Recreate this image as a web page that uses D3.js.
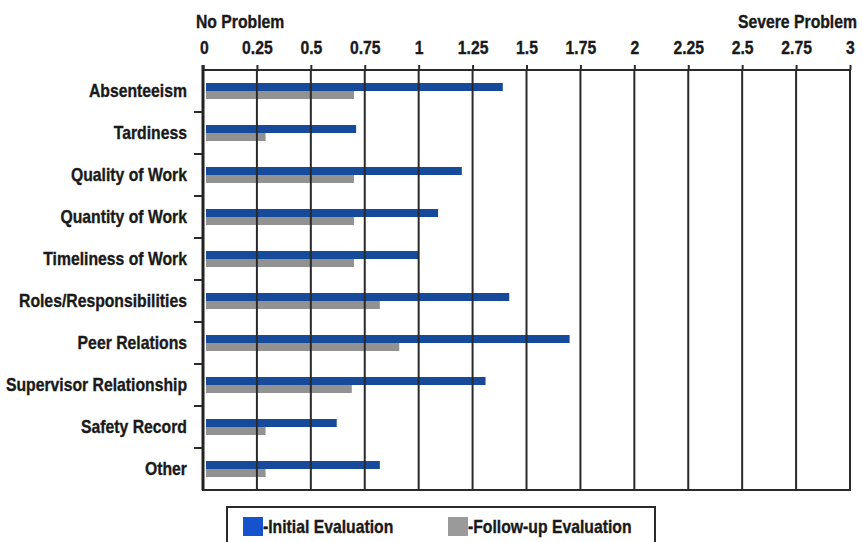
<!DOCTYPE html>
<html>
<head>
<meta charset="utf-8">
<script src="https://cdn.jsdelivr.net/npm/d3@7"></script>
<style>
  html, body { margin: 0; padding: 0; background: #fff; }
  svg text {
    font-family: "Liberation Sans", Arial, sans-serif;
    font-weight: bold;
    fill: #1a1a1a;
    stroke: #1a1a1a;
    stroke-width: 0.35px;
  }
</style>
</head>
<body>
<svg id="chart" width="863" height="542"></svg>
<script>
// Workplace problem ratings, 0 = no problem, 3 = severe problem
const categories = [
  "Absenteeism", "Tardiness", "Quality of Work", "Quantity of Work",
  "Timeliness of Work", "Roles/Responsibilities", "Peer Relations",
  "Supervisor Relationship", "Safety Record", "Other"
];
const seriesNames = ["Initial Evaluation", "Follow-up Evaluation"];
const initialValues  = [1.39, 0.71, 1.20, 1.09, 1.00, 1.42, 1.70, 1.31, 0.62, 0.82];
const followUpValues = [0.70, 0.29, 0.70, 0.70, 0.70, 0.82, 0.91, 0.69, 0.29, 0.29];
const tickValues = [0, 0.25, 0.5, 0.75, 1, 1.25, 1.5, 1.75, 2, 2.25, 2.5, 2.75, 3];
const tickLabels = ["0", "0.25", "0.5", "0.75", "1", "1.25", "1.5", "1.75", "2", "2.25", "2.5", "2.75", "3"];

const barColors = ["#164b9b", "#929292"];
const legendColors = ["#1552cc", "#9a9a9a"];

const svg = d3.select("#chart");
const plot = { left: 203, right: 850, top: 70, bottom: 490 };
const fontSize = "18px";
const squeeze = "scale(0.875,1)";   // condensed look for the bold labels

// text placed at (tx, ty) and narrowed horizontally
function label(parent, tx, ty, str, anchor) {
  return parent.append("text")
    .attr("transform", `translate(${tx},${ty}) ${squeeze}`)
    .attr("text-anchor", anchor || "start")
    .style("font-size", fontSize)
    .text(str);
}

const x = d3.scaleLinear().domain([0, 3]).range([plot.left, plot.right]);
const y = d3.scaleBand().domain(categories).range([plot.top, plot.bottom]);
const groupH = 16;
const ySub = d3.scaleBand().domain(seriesNames)
  .range([(y.bandwidth() - groupH) / 2, (y.bandwidth() + groupH) / 2]);

const rows = categories.map((c, i) => ({
  category: c,
  values: [
    { series: seriesNames[0], value: initialValues[i], color: barColors[0] },
    { series: seriesNames[1], value: followUpValues[i], color: barColors[1] }
  ]
}));

// bars
const g = svg.append("g");
g.selectAll("g.row").data(rows).join("g")
  .attr("class", "row")
  .attr("transform", d => `translate(0,${y(d.category)})`)
  .selectAll("rect").data(d => d.values).join("rect")
  .attr("x", x(0) + 3)
  .attr("y", d => ySub(d.series))
  .attr("width", d => x(d.value) - x(0) - 3)
  .attr("height", ySub.bandwidth())
  .attr("fill", d => d.color);

// vertical gridlines
svg.append("g").selectAll("line").data(tickValues.slice(1, -1)).join("line")
  .attr("x1", d => x(d)).attr("x2", d => x(d))
  .attr("y1", plot.top).attr("y2", plot.bottom)
  .attr("stroke", "#2a2a2a").attr("stroke-width", 2);

// frame
svg.append("rect")
  .attr("x", plot.left).attr("y", plot.top)
  .attr("width", plot.right - plot.left).attr("height", plot.bottom - plot.top)
  .attr("fill", "none").attr("stroke", "#2a2a2a").attr("stroke-width", 2);
svg.append("line")
  .attr("x1", plot.left).attr("x2", plot.left)
  .attr("y1", plot.top - 5).attr("y2", plot.bottom)
  .attr("stroke", "#222").attr("stroke-width", 3);

// top axis
const topAxis = d3.axisTop(x)
  .tickValues(tickValues)
  .tickFormat((d, i) => tickLabels[i])
  .tickSize(5)
  .tickPadding(11);
const ta = svg.append("g").attr("transform", `translate(0,${plot.top})`).call(topAxis);
ta.select(".domain").remove();
ta.selectAll(".tick line").attr("stroke", "#2a2a2a").attr("stroke-width", 2);
ta.selectAll(".tick text")
  .style("font-size", fontSize)
  .attr("fill", "#1a1a1a")
  .attr("transform", squeeze);
ta.selectAll(".tick text").filter(d => d === 0).attr("text-anchor", "start").attr("dx", -4);
ta.selectAll(".tick text").filter(d => d === 3).attr("text-anchor", "end").attr("dx", 5);

// left category labels and tick marks between categories
const catG = svg.append("g");
categories.forEach(c => {
  label(catG, 187, y(c) + y.bandwidth() / 2, c, "end").attr("dy", "0.36em");
});
svg.append("g").selectAll("line").data(categories.slice(1)).join("line")
  .attr("x1", plot.left - 9).attr("x2", plot.left)
  .attr("y1", d => y(d)).attr("y2", d => y(d))
  .attr("stroke", "#2a2a2a").attr("stroke-width", 2);

// end labels
label(svg, 196, 28, "No Problem", "start");
label(svg, 857, 28, "Severe Problem", "end");

// legend
const lg = svg.append("g");
lg.append("rect").attr("x", 227).attr("y", 507).attr("width", 428).attr("height", 45)
  .attr("fill", "none").attr("stroke", "#2a2a2a").attr("stroke-width", 2);
const legendX = [243, 448];
seriesNames.forEach((s, i) => {
  lg.append("rect").attr("x", legendX[i]).attr("y", 517).attr("width", 20).attr("height", 19)
    .attr("fill", legendColors[i]);
  label(lg, legendX[i] + 20, 533, "-" + s, "start");
});
</script>
</body>
</html>
